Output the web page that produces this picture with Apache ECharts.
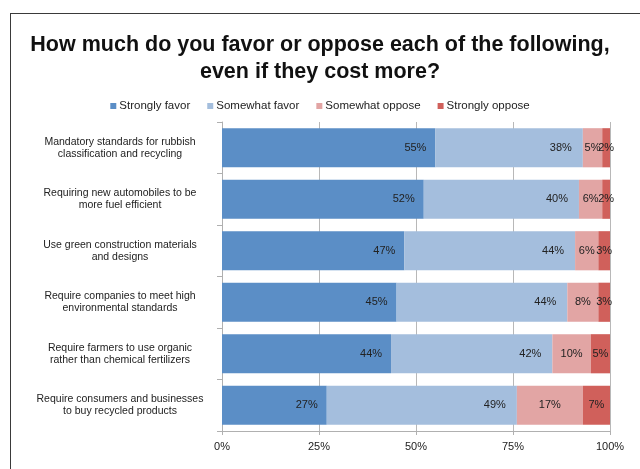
<!DOCTYPE html>
<html>
<head>
<meta charset="utf-8">
<script src="https://cdn.jsdelivr.net/npm/echarts@6/dist/echarts.min.js"></script>
<style>
  html, body { margin: 0; padding: 0; background: #fff; }
  #frame { position: absolute; left: 10px; top: 13px; width: 700px; height: 500px; border: 1.5px solid #3a3a3a; box-sizing: border-box; }
  #main { position: absolute; left: 0; top: 0; width: 640px; height: 469px; }
</style>
</head>
<body>
<div id="frame"></div>
<div id="main"></div>
<script>
const categories = [
  'Mandatory standards for rubbish\nclassification and recycling',
  'Requiring new automobiles to be\nmore fuel efficient',
  'Use green construction materials\nand designs',
  'Require companies to meet high\nenvironmental standards',
  'Require farmers to use organic\nrather than chemical fertilizers',
  'Require consumers and businesses\nto buy recycled products'
]
const strongFavor = [55, 52, 47, 45, 44, 27]
const someFavor = [38, 40, 44, 44, 42, 49]
const someOppose = [5, 6, 6, 8, 10, 17]
const strongOppose = [2, 2, 3, 3, 5, 7]
const xTicks = [0, 25, 50, 75, 100]

const names = ['Strongly favor', 'Somewhat favor', 'Somewhat oppose', 'Strongly oppose']
const colors = ['#5b8ec6', '#a4bedd', '#e2a5a4', '#d0605b']
const raw = [strongFavor, someFavor, someOppose, strongOppose]

// 100% stacked: scale each row to its own total
const totals = categories.map((c, i) => raw.reduce((s, arr) => s + arr[i], 0))

const series = raw.map((arr, k) => ({
  name: names[k],
  type: 'bar',
  stack: 'total',
  barWidth: '76%',
  itemStyle: { color: colors[k] },
  label: {
    show: true,
    position: k < 2 ? 'insideRight' : 'inside',
    distance: k === 0 ? 9 : 11,
    color: '#222',
    fontSize: 11,
    fontFamily: 'Liberation Sans',
    formatter: p => arr[p.dataIndex] + '%'
  },
  data: arr.map((v, i) => v * 100 / totals[i])
}))

const chart = echarts.init(document.getElementById('main'))
chart.setOption({
  animation: false,
  textStyle: { fontFamily: 'Liberation Sans' },
  title: {
    text: 'How much do you favor or oppose each of the following,\neven if they cost more?',
    left: 'center',
    top: 27,
    textStyle: { fontSize: 21.5, fontWeight: 'bold', color: '#111', lineHeight: 27, fontFamily: 'Liberation Sans' }
  },
  legend: {
    data: names,
    top: 95,
    left: 'center',
    itemWidth: 6,
    itemHeight: 6,
    itemGap: 17,
    icon: 'rect',
    textStyle: { fontSize: 11.5, color: '#222', padding: [0, 0, 0, -2] }
  },
  grid: { left: 222, right: 30, top: 122, bottom: 38, containLabel: false },
  xAxis: {
    type: 'value',
    min: 0,
    max: 100,
    interval: 25,
    axisLine: { show: true, lineStyle: { color: '#b0b0b0' } },
    axisTick: { show: true, length: 4, lineStyle: { color: '#b0b0b0' } },
    splitLine: { show: true, lineStyle: { color: '#b8b8b8' } },
    axisLabel: {
      color: '#222',
      fontSize: 11,
      margin: 10,
      formatter: v => xTicks.includes(v) ? v + '%' : ''
    }
  },
  yAxis: {
    type: 'category',
    inverse: true,
    data: categories,
    axisLine: { show: true, lineStyle: { color: '#b0b0b0' } },
    axisTick: { show: true, length: 5, lineStyle: { color: '#b0b0b0' } },
    axisLabel: {
      color: '#222',
      fontSize: 10.5,
      lineHeight: 12,
      align: 'center',
      margin: 102
    }
  },
  series
})
</script>
</body>
</html>
